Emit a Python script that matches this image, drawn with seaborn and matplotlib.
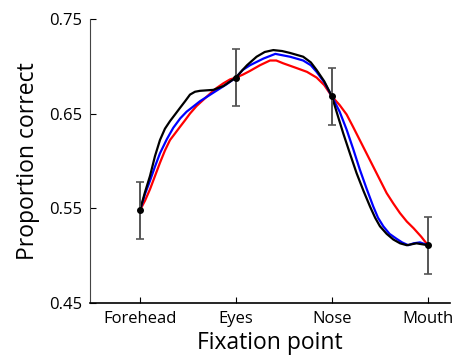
import matplotlib
matplotlib.use("Agg")
import matplotlib.pyplot as plt
import seaborn as sns
import numpy as np
import pandas as pd

# fixation positions (0=Forehead ... 3=Mouth)
tick_labels = ["Forehead", "Eyes", "Nose", "Mouth"]
point_means = [0.548, 0.688, 0.668, 0.511]
point_errs = [0.030, 0.030, 0.030, 0.030]

black_x = [0.0, 0.052, 0.104, 0.156, 0.208, 0.26, 0.3125, 0.365, 0.417, 0.47,
           0.521, 0.573, 0.625, 0.764, 0.868, 1.0, 1.06, 1.115, 1.215, 1.30,
           1.389, 1.48, 1.5625, 1.70, 1.78, 1.84, 1.92, 2.0, 2.06, 2.118,
           2.19, 2.257, 2.33, 2.396, 2.45, 2.5, 2.57, 2.64, 2.71, 2.78,
           2.88, 3.0]
black_y = [0.548, 0.567, 0.584, 0.605, 0.622, 0.634, 0.642, 0.649, 0.656, 0.663,
           0.670, 0.673, 0.674, 0.675, 0.679, 0.688, 0.695, 0.701, 0.710, 0.715,
           0.717, 0.716, 0.714, 0.710, 0.704, 0.696, 0.684, 0.668, 0.648, 0.629,
           0.607, 0.587, 0.568, 0.552, 0.540, 0.531, 0.523, 0.517, 0.513, 0.511,
           0.513, 0.511]

blue_x = [0.0, 0.052, 0.104, 0.156, 0.208, 0.28, 0.347, 0.42, 0.486, 0.55,
          0.625, 0.764, 0.903, 1.0, 1.07, 1.146, 1.285, 1.41, 1.5625, 1.70,
          1.78, 1.84, 1.92, 2.0, 2.08, 2.153, 2.22, 2.29, 2.36, 2.43,
          2.48, 2.535, 2.60, 2.67, 2.73, 2.795, 2.85, 2.917, 3.0]
blue_y = [0.548, 0.565, 0.579, 0.594, 0.608, 0.623, 0.635, 0.645, 0.652, 0.657,
          0.663, 0.672, 0.681, 0.688, 0.696, 0.701, 0.708, 0.713, 0.710, 0.706,
          0.701, 0.694, 0.683, 0.668, 0.652, 0.633, 0.613, 0.591, 0.571, 0.552,
          0.540, 0.531, 0.523, 0.518, 0.514, 0.511, 0.513, 0.514, 0.511]

red_x = [0.0, 0.052, 0.104, 0.156, 0.208, 0.26, 0.3125, 0.365, 0.417, 0.47,
         0.521, 0.59, 0.66, 0.73, 0.799, 0.87, 0.9375, 1.0, 1.07, 1.146,
         1.25, 1.354, 1.42, 1.493, 1.632, 1.74, 1.84, 1.92, 2.0, 2.08,
         2.153, 2.22, 2.29, 2.36, 2.43, 2.50, 2.57, 2.64, 2.708, 2.78,
         2.85, 2.93, 3.0]
red_y = [0.548, 0.558, 0.570, 0.584, 0.598, 0.611, 0.622, 0.629, 0.636, 0.643,
         0.650, 0.658, 0.6645, 0.671, 0.677, 0.682, 0.686, 0.688, 0.691, 0.695,
         0.701, 0.706, 0.706, 0.703, 0.698, 0.694, 0.688, 0.680, 0.668, 0.659,
         0.649, 0.636, 0.622, 0.608, 0.594, 0.580, 0.566, 0.555, 0.545, 0.536,
         0.529, 0.520, 0.511]

curves = pd.concat([
    pd.DataFrame({"x": black_x, "y": black_y, "cond": "black"}),
    pd.DataFrame({"x": blue_x, "y": blue_y, "cond": "blue"}),
    pd.DataFrame({"x": red_x, "y": red_y, "cond": "red"}),
])

sns.set_style("ticks")
plt.rcParams["font.family"] = ["Open Sans", "DejaVu Sans"]

fig = plt.figure(figsize=(4.55, 3.62), dpi=100)
ax = fig.add_axes([0.198, 0.163, 0.791, 0.785])

sns.lineplot(data=curves, x="x", y="y", hue="cond",
             palette={"black": "black", "blue": "#0000ff", "red": "#ff0000"},
             hue_order=["red", "blue", "black"],
             linewidth=1.6, legend=False, sort=False, ax=ax)

ax.errorbar(range(4), point_means, yerr=point_errs, fmt="o", color="black",
            ecolor="#555555", elinewidth=1.4, capsize=3, capthick=1.2,
            markersize=4, zorder=5)

ax.set_xlim(-0.52, 3.23)
ax.set_ylim(0.45, 0.75)
ax.set_xticks(range(4))
ax.set_xticklabels(tick_labels)
ax.set_yticks([0.45, 0.55, 0.65, 0.75])
ax.set_yticklabels(["0.45", "0.55", "0.65", "0.75"])
ax.tick_params(direction="in", length=4, width=0.8, labelsize=12,
               pad=6, colors="black", labelcolor="black")
ax.set_xlabel("Fixation point", fontsize=16.5, labelpad=3, color="black")
ax.set_ylabel("Proportion correct", fontsize=16.5, labelpad=6, color="black")
sns.despine(ax=ax)
ax.spines["left"].set_color("#444444")
ax.spines["bottom"].set_color("black")
ax.spines["bottom"].set_linewidth(1.2)

fig.savefig("out.png", dpi=100)
